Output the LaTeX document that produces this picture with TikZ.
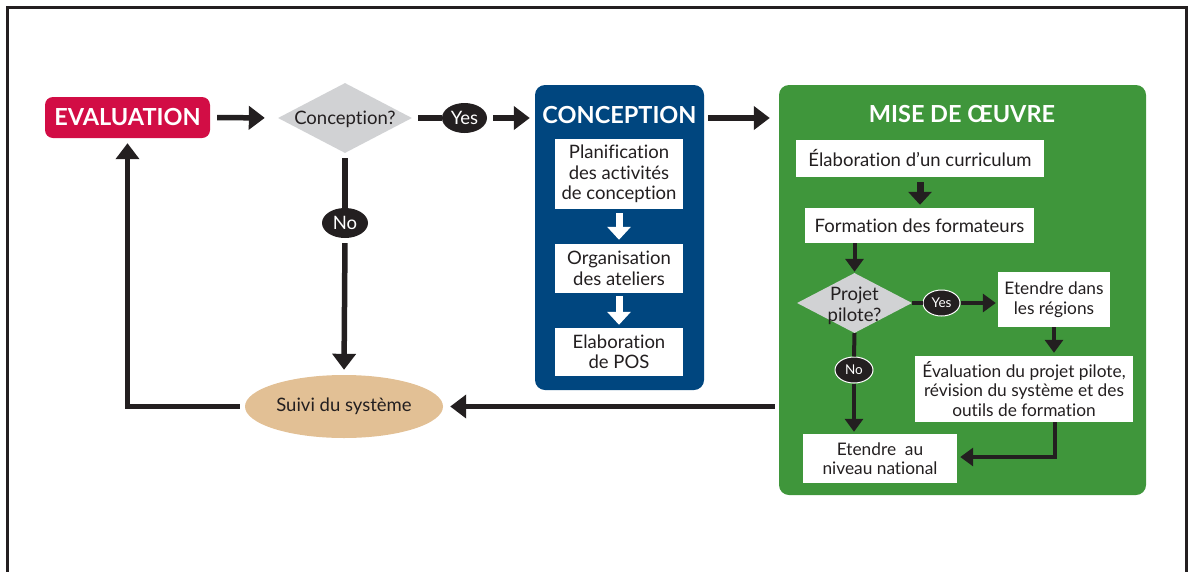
\documentclass[tikz,border=0pt]{standalone}
\usepackage{fontspec}
\setmainfont{Lato}[Ligatures=NoCommon]
\usetikzlibrary{arrows.meta,shapes.geometric}
\definecolor{crim}{HTML}{D20D45}
\definecolor{navy}{HTML}{00467F}
\definecolor{grn}{HTML}{3F963B}
\definecolor{gry}{HTML}{D1D2D4}
\definecolor{tan}{HTML}{E2C095}
\definecolor{ink}{HTML}{231F20}
\tikzset{
  rbox/.style={rounded corners=8, inner sep=0pt, align=center},
  wbox/.style={fill=white, inner sep=0pt, align=center, text=ink},
  dia/.style={diamond, fill=gry, inner sep=0pt},
  pill/.style={ellipse, fill=ink, text=white, inner sep=0pt},
  bigarrow/.style={draw=ink, line width=5.5pt, -{Triangle[width=23pt,length=16pt]}},
  medarrow/.style={draw=ink, line width=4pt, -{Triangle[width=18pt,length=13pt]}},
  fatarrow/.style={line width=7pt, -{Triangle[width=23pt,length=13pt]}},
  bigline/.style={draw=ink, line width=5.5pt},
  medline/.style={draw=ink, line width=4pt},
  body/.style={font=\fontsize{18.5}{20.5}\selectfont},
  gbody/.style={font=\fontsize{17.3}{19.5}\selectfont},
  ttl/.style={font=\bfseries\fontsize{23.5}{26}\selectfont, text=white},
}
\begin{document}
\begin{tikzpicture}[x=1pt,y=-1pt]
\useasboundingbox (0,0) rectangle (1189,571);
\draw[ink, line width=2.5pt] (7.5,575) -- (7.5,7.5) -- (1186.5,7.5) -- (1186.5,575);

% left part
\node[rbox, fill=crim, minimum width=165pt, minimum height=41pt, ttl] (eval) at (127.5,117.5) {EVALUATION};
\node[dia, minimum width=134pt, minimum height=70pt] (d1) at (345,118) {};
\node[body, text=ink] (d1t) at ([yshift=-1pt]d1.center) {Conception?};
\node[pill, minimum width=45pt, minimum height=30pt, body] (yes1) at (464.5,118) {Yes};
\node[pill, minimum width=46pt, minimum height=30pt, body] (no1) at (345,223) {No};
\node[ellipse, fill=tan, inner sep=0pt, minimum width=198pt, minimum height=63pt, body, text=ink] (suivi) at (344,406.5) {Suivi du système};

% conception
\node[rbox, rounded corners=10, fill=navy, minimum width=169pt, minimum height=305pt] (conc) at (619.5,237.5) {};
\node[ttl] (ctitle) at (619.5,115) {CONCEPTION};
\node[wbox, minimum width=128pt, minimum height=70pt, body] (b1) at (619,174) {Planification\\des activités\\de conception};
\node[wbox, minimum width=128pt, minimum height=49pt, body] (b2) at (619,268.5) {Organisation\\des ateliers};
\node[wbox, minimum width=128pt, minimum height=48pt, body] (b3) at (619,352) {Elaboration\\de POS};
\draw[fatarrow, white, shorten <=4pt, shorten >=4pt] (b1.south) -- (b2.north);
\draw[fatarrow, white, shorten <=3pt, shorten >=3pt] (b2.south) -- (b3.north);

% mise en oeuvre
\node[rbox, rounded corners=10, fill=grn, minimum width=367pt, minimum height=410pt] (green) at (962.5,290) {};
\node[ttl] (gtitle) at (962,114) {MISE DE ŒUVRE};
\node[wbox, minimum width=248pt, minimum height=37pt, body] (curr) at (920,158.5) {Élaboration d’un curriculum};
\node[wbox, minimum width=229pt, minimum height=35pt, body] (form) at (919.5,225.5) {Formation des formateurs};
\node[dia, minimum width=115pt, minimum height=60pt] (d2) at (854.5,303) {};
\node[body, text=ink, align=center] (d2t) at ([yshift=-3pt]d2.center) {Projet\\pilote?};
\node[pill, draw=white, line width=1pt, minimum width=37pt, minimum height=26pt, font=\fontsize{13.5}{15}\selectfont] (yes2) at (941.5,303) {Yes};
\node[pill, draw=white, line width=1pt, minimum width=38pt, minimum height=26pt, font=\fontsize{13.5}{15}\selectfont] (no2) at (854,370) {No};
\node[wbox, minimum width=112pt, minimum height=55pt, gbody] (reg) at (1054,299.5) {Etendre dans\\les régions};
\node[wbox, minimum width=218pt, minimum height=66pt, gbody] (evalp) at (1024,389) {Évaluation du projet pilote,\\révision du système et des\\outils de formation};
\node[wbox, minimum width=154pt, minimum height=49pt, gbody] (nat) at (880,458.5) {Etendre~~au\\niveau national};

% connectors
\draw[bigarrow, shorten <=7pt, shorten >=13pt] (eval.east) -- (d1.west);
\draw[bigline, shorten <=6pt] (d1.east) -- (yes1.west);
\draw[bigarrow, shorten <=6pt, shorten >=5pt] (yes1.east) -- (yes1.east -| conc.west);
\draw[bigline, shorten <=5pt] (d1.south) -- (no1.north);
\draw[bigarrow, shorten <=5pt, shorten >=5pt] (no1.south) -- (suivi.north);
\draw[bigarrow, shorten <=5pt, shorten >=5pt] (suivi.west) -| (eval.south);
\draw[bigarrow, shorten <=4pt, shorten >=7pt] (suivi.east -| green.west) -- (suivi.east);
\draw[bigarrow, shorten <=4pt, shorten >=9pt] (yes1.east -| conc.east) -- (yes1.east -| green.west);

\draw[fatarrow, ink, shorten <=5pt, shorten >=3pt] (curr.south) -- (curr.south |- form.north);
\draw[medarrow, shorten >=1pt] (form.south -| d2.north) -- (d2.north);
\draw[medline] (d2.east) -- (yes2.west);
\draw[medarrow, shorten >=2pt] (yes2.east) -- (yes2.east -| reg.west);
\draw[medarrow, shorten >=3pt] (reg.south) -- (reg.south |- evalp.north);
\draw[medarrow, shorten >=3pt] ([xshift=1pt]reg.south |- evalp.south) |- ([yshift=1.5pt]nat.east);
\draw[medline] (d2.south) -- (no2.north);
\draw[medarrow, shorten >=2pt] (no2.south) -- (nat.north -| no2.south);
\end{tikzpicture}
\end{document}
